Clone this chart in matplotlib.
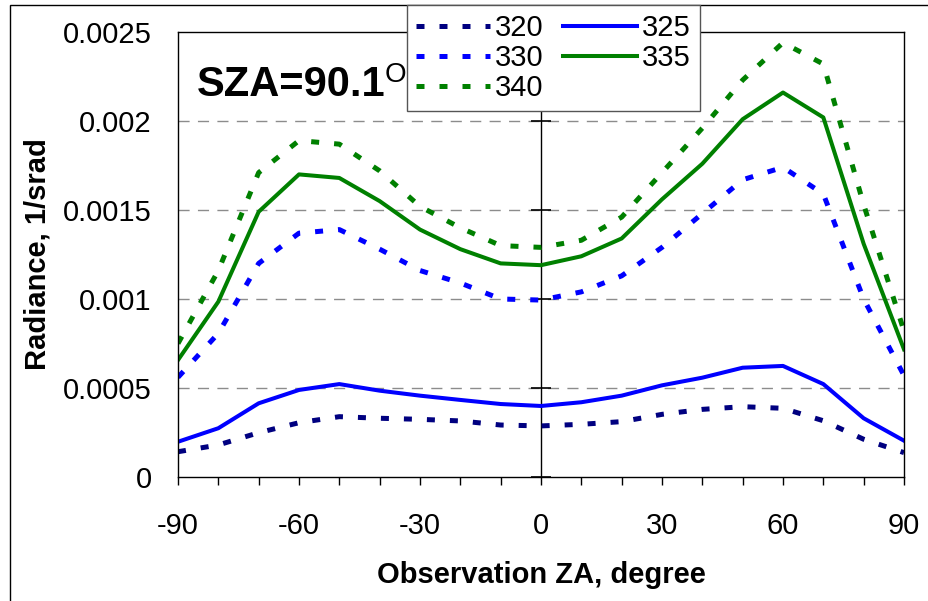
import numpy as np
import matplotlib
matplotlib.use("Agg")
import matplotlib.pyplot as plt
from matplotlib.patches import Rectangle

plt.rcParams['font.family'] = ['Liberation Sans', 'DejaVu Sans']
plt.rcParams['axes.unicode_minus'] = False

# observation zenith angle, degree
za = [-90, -80, -70, -60, -50, -40, -30, -20, -10, 0, 10, 20, 30, 40, 50, 60, 70, 80, 90]

# radiance, 1/srad, per wavelength
r320 = [0.000142, 0.000180, 0.000249, 0.000305, 0.000339, 0.000330, 0.000324, 0.000315, 0.000292, 0.000287,
        0.000296, 0.000311, 0.000352, 0.000380, 0.000395, 0.000386, 0.000316, 0.000212, 0.000137]
r325 = [0.000198, 0.000274, 0.000414, 0.000489, 0.000522, 0.000485, 0.000457, 0.000433, 0.000410, 0.000399,
        0.000420, 0.000457, 0.000515, 0.000558, 0.000614, 0.000624, 0.000522, 0.000330, 0.000204]
r330 = [0.000560, 0.000807, 0.00120, 0.00137, 0.00139, 0.00128, 0.00116, 0.00109, 0.00100, 0.000994,
        0.00104, 0.00113, 0.00129, 0.00148, 0.00167, 0.00174, 0.00159, 0.00100, 0.000570]
r335 = [0.000657, 0.000985, 0.00149, 0.00170, 0.00168, 0.00155, 0.00139, 0.00128, 0.00120, 0.00119,
        0.00124, 0.00134, 0.00156, 0.00176, 0.00201, 0.00216, 0.00202, 0.00131, 0.000717]
r340 = [0.000750, 0.00116, 0.00171, 0.00189, 0.00187, 0.00172, 0.00152, 0.00140, 0.00130, 0.00129,
        0.00133, 0.00146, 0.00171, 0.00196, 0.00223, 0.00244, 0.00232, 0.00153, 0.000820]

yticks = [0, 0.0005, 0.001, 0.0015, 0.002, 0.0025]
ytick_labels = ['0', '0.0005', '0.001', '0.0015', '0.002', '0.0025']
xticks = [-90, -60, -30, 0, 30, 60, 90]

W, H = 929, 601
fig = plt.figure(figsize=(W / 100, H / 100), dpi=100)
ax = fig.add_axes([178 / W, 1 - 477 / H, (904 - 178) / W, (477 - 32) / H])

dot = (0, (1.6, 3.0))
l320, = ax.plot(za, r320, color='#000080', lw=3.6, ls=dot, label='320')
l330, = ax.plot(za, r330, color='#0000ff', lw=3.6, ls=dot, label='330')
l340, = ax.plot(za, r340, color='#008000', lw=3.6, ls=dot, label='340')
l325, = ax.plot(za, r325, color='#0000ff', lw=2.9, label='325')
l335, = ax.plot(za, r335, color='#008000', lw=2.9, label='335')

ax.set_xlim(-90, 90)
ax.set_ylim(0, 0.0025)

# grid
for v in yticks[1:-1]:
    ax.axhline(v, color='#8c8c8c', lw=1, ls=(0, (8, 6)), zorder=0)

# centre axis with crossing ticks
ax.axvline(0, color='black', lw=1, zorder=1)
ax.plot(np.zeros(len(yticks)), yticks, ls='none', marker='_', ms=14, mew=1.2,
        color='black', clip_on=False, zorder=1)

ax.set_yticks(yticks)
ax.set_yticklabels(ytick_labels)
ax.tick_params(axis='y', length=0, pad=19, labelsize=21)
ax.set_xticks(xticks)
ax.set_xticks(np.arange(-90, 91, 10), minor=True)
ax.tick_params(axis='x', which='both', direction='out', length=6, width=1, labelsize=21, pad=19)

for s in ax.spines.values():
    s.set_linewidth(1)

ax.set_xlabel('Observation ZA, degree', fontsize=21, fontweight='bold', labelpad=15)
ax.set_ylabel('Radiance, 1/srad', fontsize=21, fontweight='bold')
ax.yaxis.set_label_coords((52 - 178) / (904 - 178), 0.5)

fig.text(197 / W, 1 - 96 / H, 'SZA=90.1', fontsize=30, fontweight='bold', va='baseline')
fig.text(385 / W, 1 - 82 / H, 'O', fontsize=20, va='baseline')

leg = fig.legend(handles=[l320, l330, l340, l325, l335], ncol=2, loc='upper left',
                 bbox_to_anchor=(407 / W, 1 - 5 / H), bbox_transform=fig.transFigure,
                 borderaxespad=0, fontsize=21, handlelength=2.55, handletextpad=0.17,
                 columnspacing=0.65, labelspacing=0.08, borderpad=0.3,
                 fancybox=False, framealpha=1, edgecolor='#555555')
leg.get_frame().set_linewidth(1)

# outer chart border
fig.patches.append(Rectangle((10 / W, -0.1), 2, 1 - 5 / H + 0.1, transform=fig.transFigure,
                             fill=False, edgecolor='black', lw=1))

fig.savefig('out.png', dpi=100)
